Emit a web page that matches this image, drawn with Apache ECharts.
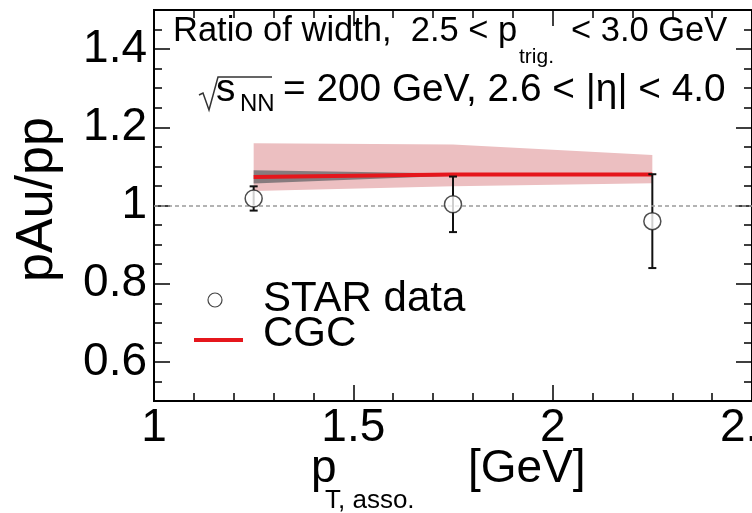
<!DOCTYPE html>
<html>
<head>
<meta charset="utf-8">
<script src="https://cdn.jsdelivr.net/npm/echarts@6/dist/echarts.min.js"></script>
<style>
  html, body { margin: 0; padding: 0; background: #fff; }
  #chart { width: 752px; height: 513px; }
</style>
</head>
<body>
<div id="chart"></div>
<script>
// Associated-particle pT bins (GeV)
const ptAsso = [1.25, 1.75, 2.25];
// STAR pAu/pp width ratio with statistical errors
const starRatio = [1.018, 1.003, 0.960];
const starErr = [0.031, 0.071, 0.120];
// CGC calculation: central curve, outer band, inner band
const cgcX = [1.25, 1.75, 2.25];
const cgcRatio = [1.073, 1.079, 1.079];
const cgcBandLow = [1.037, 1.049, 1.057];
const cgcBandHigh = [1.159, 1.156, 1.129];
const cgcInnerLow = [1.056, 1.076, 1.078];
const cgcInnerHigh = [1.090, 1.082, 1.081];
// Axis ticks
const xMajorTicks = [1, 1.5, 2, 2.5];
const yMajorTicks = [0.6, 0.8, 1.0, 1.2, 1.4];

const FONT = 'Liberation Sans, Arial, Helvetica, sans-serif';
const chart = echarts.init(document.getElementById('chart'), null, { renderer: 'canvas' });

function bandSeries(name, lows, highs, color, z) {
  return {
    name: name,
    type: 'custom',
    xAxisIndex: 0, yAxisIndex: 0,
    z: z,
    silent: true,
    data: cgcX.map((x, i) => [x, lows[i], highs[i]]),
    renderItem: function (params, api) {
      if (params.dataIndex !== 0) return null;
      const upper = cgcX.map((x, i) => api.coord([x, highs[i]]));
      const lower = cgcX.map((x, i) => api.coord([x, lows[i]])).reverse();
      return {
        type: 'polygon',
        shape: { points: upper.concat(lower) },
        style: { fill: color }
      };
    }
  };
}

const axisCommonX = {
  type: 'value', min: 1, max: 2.5, interval: 0.5,
  splitLine: { show: false },
  axisLine: { show: true, onZero: false, lineStyle: { color: '#000', width: 2 } },
  axisTick: { show: true, inside: true, length: 16, lineStyle: { color: '#000', width: 1.5 } },
  minorTick: { show: true, splitNumber: 5, length: 8, lineStyle: { color: '#000', width: 1.5 } }
};

const yMinor = {
  type: 'value', min: 0.5, max: 1.5, interval: 0.05,
  splitLine: { show: false },
  axisLine: { show: true, onZero: false, lineStyle: { color: '#000', width: 2 } },
  axisTick: { show: true, inside: true, length: 8, lineStyle: { color: '#000', width: 1.5 } },
  axisLabel: { show: false }
};
const yMajor = {
  type: 'value', min: 0.5, max: 1.5,
  splitLine: { show: false },
  axisLine: { show: false },
  axisTick: { show: true, inside: true, length: 16, customValues: yMajorTicks, lineStyle: { color: '#000', width: 1.5 } }
};

const option = {
  backgroundColor: '#fff',
  animation: false,
  grid: {
    left: 154, right: 0, top: 10, bottom: 112,
    outerBoundsMode: 'none', containLabel: false,
    show: true, borderColor: '#000', borderWidth: 2
  },
  xAxis: [
    Object.assign({}, axisCommonX, {
      position: 'bottom',
      axisLabel: {
        show: true, fontSize: 46, fontFamily: FONT, color: '#000', margin: 4,
        customValues: xMajorTicks,
        formatter: v => String(Math.round(v * 10) / 10)
      }
    }),
    Object.assign({}, axisCommonX, { position: 'top', axisLabel: { show: false } })
  ],
  yAxis: [
    Object.assign({}, yMinor, { position: 'left' }),
    Object.assign({}, yMajor, {
      position: 'left',
      name: 'pAu/pp', nameLocation: 'middle', nameGap: 90,
      nameTextStyle: { fontSize: 52, fontFamily: FONT, color: '#000', padding: [0, 0, 0, 12] },
      axisLabel: {
        show: true, fontSize: 46, fontFamily: FONT, color: '#000', margin: 7,
        customValues: yMajorTicks,
        formatter: v => String(Math.round(v * 10) / 10)
      }
    }),
    Object.assign({}, yMinor, { position: 'right' }),
    Object.assign({}, yMajor, { position: 'right', axisLabel: { show: false } })
  ],
  series: [
    bandSeries('CGC band', cgcBandLow, cgcBandHigh, '#ecbfc1', 1),
    bandSeries('CGC inner band', cgcInnerLow, cgcInnerHigh, '#877b7e', 2),
    {
      name: 'CGC',
      type: 'line',
      xAxisIndex: 0, yAxisIndex: 0,
      z: 3,
      data: cgcX.map((x, i) => [x, cgcRatio[i]]),
      showSymbol: false,
      lineStyle: { color: '#e5161c', width: 4 },
      markLine: {
        silent: true, symbol: 'none', label: { show: false },
        lineStyle: { color: '#9a9a9a', width: 1.5, type: [4, 3] },
        data: [{ yAxis: 1 }]
      }
    },
    {
      name: 'STAR error',
      type: 'custom',
      xAxisIndex: 0, yAxisIndex: 0,
      z: 4,
      data: ptAsso.map((x, i) => [x, starRatio[i], starErr[i]]),
      renderItem: function (params, api) {
        const x = api.value(0), y = api.value(1), e = api.value(2);
        const top = api.coord([x, y + e]);
        const bot = api.coord([x, y - e]);
        const cap = 4;
        const st = { stroke: '#111', lineWidth: 2 };
        return {
          type: 'group',
          children: [
            { type: 'line', shape: { x1: top[0], y1: top[1], x2: bot[0], y2: bot[1] }, style: st },
            { type: 'line', shape: { x1: top[0] - cap, y1: top[1], x2: top[0] + cap, y2: top[1] }, style: st },
            { type: 'line', shape: { x1: bot[0] - cap, y1: bot[1], x2: bot[0] + cap, y2: bot[1] }, style: st }
          ]
        };
      }
    },
    {
      name: 'STAR data',
      type: 'scatter',
      xAxisIndex: 0, yAxisIndex: 0,
      z: 5,
      symbol: 'circle',
      symbolSize: 17,
      data: ptAsso.map((x, i) => [x, starRatio[i]]),
      itemStyle: { color: '#fff', borderColor: '#222', borderWidth: 1.5 }
    }
  ],
  graphic: [
    // header line 1
    { type: 'text', left: 173, top: 14, z: 10,
      style: { text: 'Ratio of width,  2.5 < p', font: '34.5px ' + FONT, fill: '#000' } },
    { type: 'text', left: 519, top: 47, z: 10,
      style: { text: 'trig.', font: '21px ' + FONT, fill: '#000' } },
    { type: 'text', left: 571, top: 14, z: 10,
      style: { text: '< 3.0 GeV', font: '34.5px ' + FONT, fill: '#000' } },
    // header line 2
    { type: 'polyline', z: 10,
      shape: { points: [[199, 95], [203, 93], [209, 110], [218, 77], [272, 77]] },
      style: { stroke: '#333', lineWidth: 1.5, fill: null } },
    { type: 'text', left: 216, top: 71, z: 10,
      style: { text: 's', font: '38.8px ' + FONT, fill: '#000' } },
    { type: 'text', left: 240, top: 92, z: 10,
      style: { text: 'NN', font: '24px ' + FONT, fill: '#000' } },
    { type: 'text', left: 283, top: 71, z: 10,
      style: { text: '= 200 GeV, 2.6 < |η| < 4.0', font: '38.8px ' + FONT, fill: '#000' } },
    // legend
    { type: 'circle', z: 10, shape: { cx: 215, cy: 300, r: 7 },
      style: { fill: '#fff', stroke: '#444', lineWidth: 1.2 } },
    { type: 'text', left: 263, top: 278, z: 10,
      style: { text: 'STAR data', font: '42px ' + FONT, fill: '#000' } },
    { type: 'line', z: 10, shape: { x1: 194, y1: 340, x2: 243, y2: 340 },
      style: { stroke: '#e5161c', lineWidth: 4 } },
    { type: 'text', left: 263, top: 313, z: 10,
      style: { text: 'CGC', font: '42px ' + FONT, fill: '#000' } },
    // x-axis title
    { type: 'text', left: 311, top: 446, z: 10,
      style: { text: 'p', font: '46px ' + FONT, fill: '#000' } },
    { type: 'text', left: 325, top: 488, z: 10,
      style: { text: 'T, asso.', font: '26px ' + FONT, fill: '#000' } },
    { type: 'text', left: 468, top: 446, z: 10,
      style: { text: '[GeV]', font: '46px ' + FONT, fill: '#000' } }
  ]
};

chart.setOption(option);
</script>
</body>
</html>
